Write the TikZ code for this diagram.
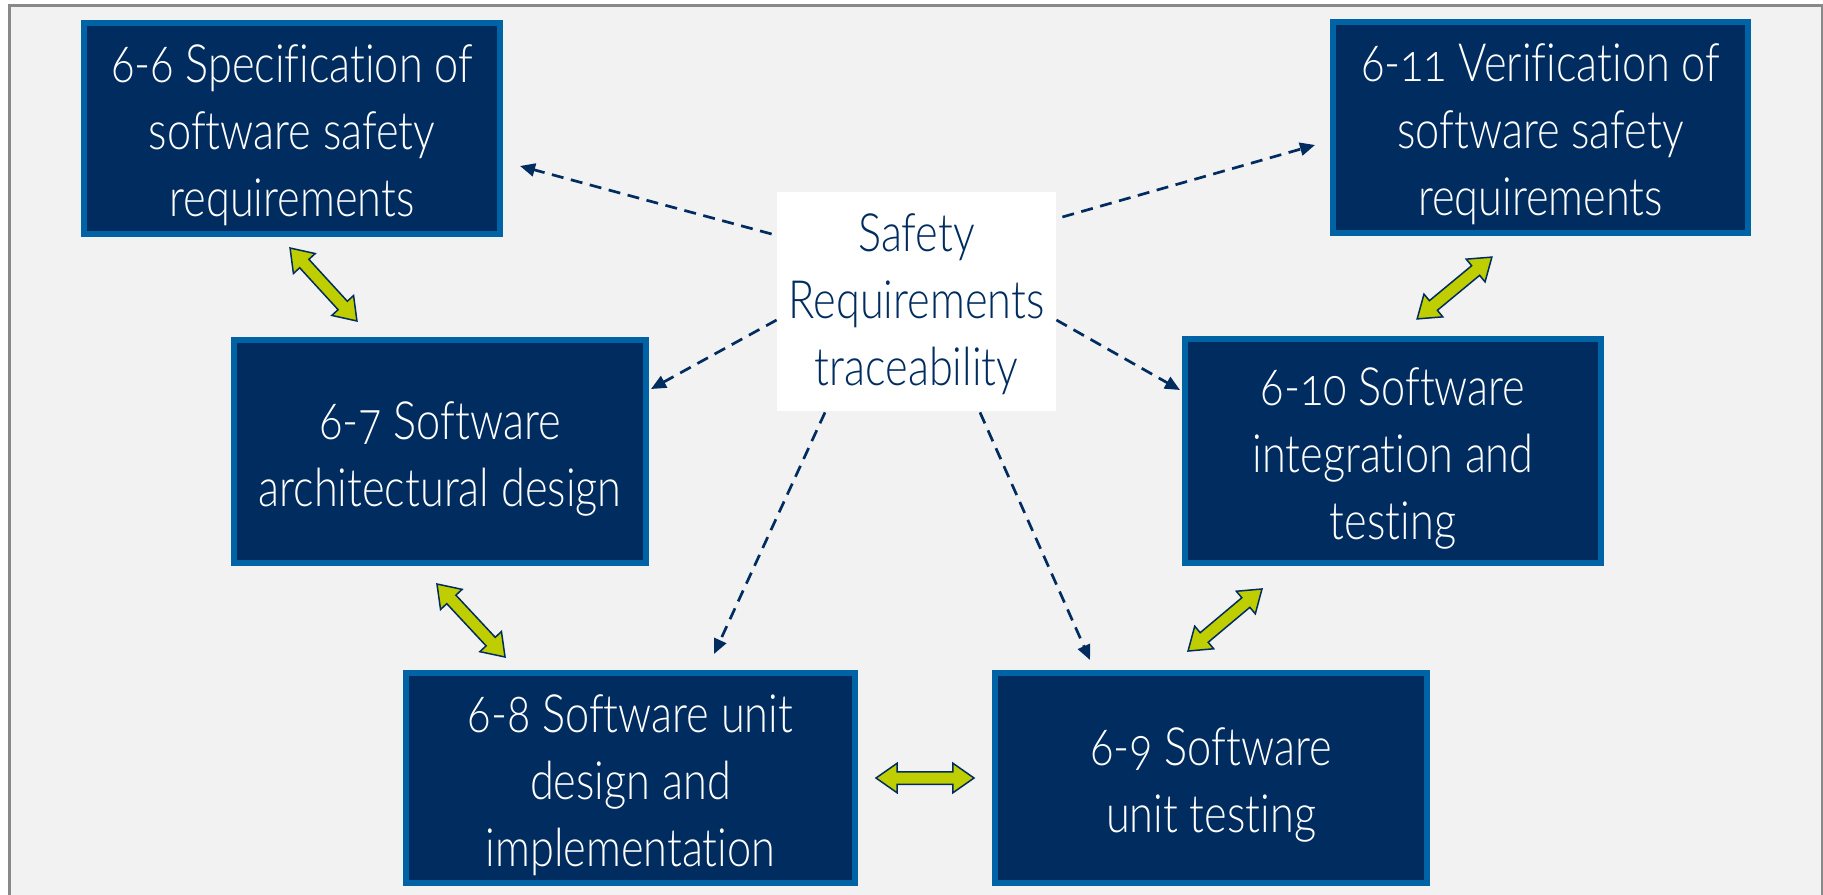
\documentclass[tikz,border=0pt]{standalone}
\usepackage{fontspec}
\setmainfont{Lato}[UprightFont={* Light},FakeStretch=0.82,Numbers=OldStyle,Ligatures=NoCommon]
\usetikzlibrary{arrows.meta,shapes.arrows}
\definecolor{navy}{RGB}{0,44,95}
\definecolor{rim}{RGB}{0,99,166}
\definecolor{lime}{RGB}{190,206,0}
\definecolor{canvas}{RGB}{242,242,242}
\definecolor{framegray}{RGB}{137,137,137}
% strut that lowers a multi-line label inside its box
\newcommand{\droptext}[1]{\rule{0pt}{#1}}

\begin{document}
\begin{tikzpicture}[x=0.5pt,y=-0.5pt,
  boxfont/.style={font=\fontsize{26.4}{33.5}\selectfont},
  phase/.style={boxfont, draw=rim, line width=3pt, fill=navy, text=white,
    align=center, inner sep=0pt},
  hub/.style={boxfont, fill=white, text=navy, align=center, inner sep=0pt},
  trace/.style={draw=navy, line width=1.35pt, dash pattern=on 6pt off 3.8pt,
    -{Triangle[length=7.5pt,width=6.5pt]}},
  link/.style={shape=double arrow, draw=navy, fill=lime, line width=0.75pt,
    inner xsep=0pt, inner ysep=2.75pt, double arrow head extend=4.25pt,
    double arrow tip angle=70, minimum width=0pt},
]
\useasboundingbox (0,0) rectangle (1823,894);
\clip (0,0) rectangle (1823,894);

% page and frame
\fill[white] (0,0) rectangle (1823,894);
\fill[canvas] (9.5,5.5) rectangle (1822.5,900);
\draw[framegray, line width=1.6pt] (9.5,900) -- (9.5,5.5) -- (1822.5,5.5) -- (1822.5,900);

% life-cycle phases
\node[phase, minimum width=208pt, minimum height=105.5pt] (p66) at (292,128.5)
  {\droptext{26pt}6-6 Specification of\\software safety\\requirements};
\node[phase, minimum width=207.5pt, minimum height=105.5pt] (p611) at (1540.5,127.5)
  {\droptext{26pt}6-11 Verification of\\software safety\\requirements};
\node[phase, minimum width=206pt, minimum height=111.5pt] (p67) at (440,451.5)
  {\droptext{26pt}6-7 Software\\architectural design};
\node[phase, minimum width=208pt, minimum height=112pt] (p610) at (1393,451)
  {\droptext{26pt}6-10 Software\\integration and\\testing};
\node[phase, minimum width=224.5pt, minimum height=105pt] (p68) at (630.5,778)
  {\droptext{26pt}6-8 Software unit\\design and\\implementation};
\node[phase, minimum width=216pt, minimum height=105pt] (p69) at (1211,778)
  {\droptext{26pt}6-9 Software\\unit testing};

% central traceability box
\node[hub, minimum width=139.5pt, minimum height=109.5pt] (sr) at (916.5,301.5)
  {\droptext{22pt}Safety\\Requirements\\traceability};

% arrow ends of the traceability links
\coordinate (t66)  at (520,166);
\coordinate (t67)  at (651,389);
\coordinate (t611) at (1315,145);
\coordinate (t610) at (1180,390);
\coordinate (t68)  at (714,654);
\coordinate (t69)  at (1090,660);

\draw[trace] ([shift={(-5,-67.5)}]sr.west) -- (t66);
\draw[trace] ([shift={(0,18.5)}]sr.west) -- (t67);
\draw[trace] ([shift={(6,-84.5)}]sr.east) -- (t611);
\draw[trace] ([shift={(0,18.5)}]sr.east) -- (t610);
\draw[trace] ([shift={(-91.5,1)}]sr.south) -- (t68);
\draw[trace] ([shift={(63.5,1)}]sr.south) -- (t69);

% two-way links between neighbouring phases
\node[link, minimum height=49.5pt, rotate=-47.5] (l6667) at (323.5,284.5) {};
\node[link, minimum height=49.9pt, rotate=-47] (l6768) at (471,620.5) {};
\node[link, minimum height=49pt] (l6869) at (925,778) {};
\node[link, minimum height=48.25pt, rotate=40] (l69610) at (1225,620) {};
\node[link, minimum height=48.5pt, rotate=39.6] (l610611) at (1454.5,288) {};
\end{tikzpicture}
\end{document}
